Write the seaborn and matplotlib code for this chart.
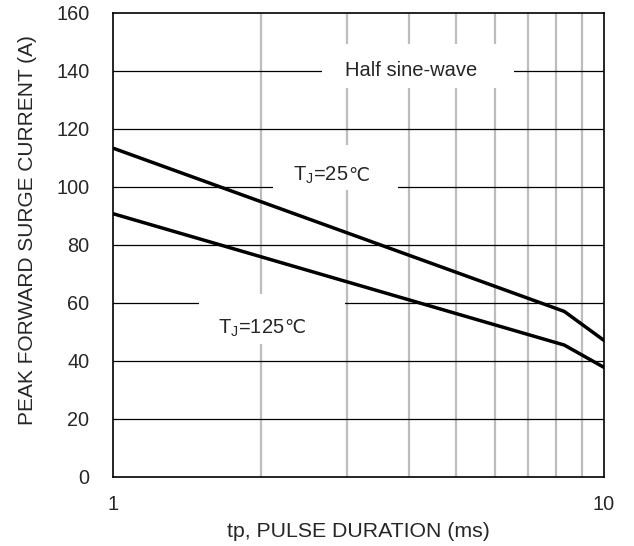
import matplotlib
matplotlib.use("Agg")
import matplotlib.pyplot as plt
import seaborn as sns
import pandas as pd
from matplotlib.ticker import FixedLocator, NullFormatter
from matplotlib.patches import Rectangle

sns.set_style("white")
plt.rcParams['font.family'] = ['Liberation Sans', 'DejaVu Sans']

tp = [1.0, 8.3, 10.0]
i_25 = [113.4, 57.1, 47.1]
i_125 = [90.8, 45.5, 37.8]
series = ["T_J=25", "T_J=125"]
x_ticks = [1, 10]
x_ticklabels = ["1", "10"]
y_ticks = list(range(0, 161, 20))

df = pd.DataFrame({
    "tp": tp + tp,
    "I": i_25 + i_125,
    "s": [series[0]] * 3 + [series[1]] * 3,
})

fig = plt.figure(figsize=(6.34, 5.46), dpi=100)
ax = fig.add_axes([113/634, 1-477/546, (604-113)/634, (477-13)/546])

ax.set_xscale("log")
ax.set_xlim(1, 10)
ax.set_ylim(0, 160)

# gridlines
for v in range(2, 10):
    ax.axvline(v, color="#bdbdbd", lw=1.6, zorder=1)
for h in range(20, 160, 20):
    ax.axhline(h, color="black", lw=0.9, zorder=1)

# white label boxes (x in data units on log axis, y in data units)
for (x0, x1, y0, y1) in [(2.666, 6.555, 134.2, 149.3),
                         (2.118, 3.805, 99.1, 114.6),
                         (1.497, 2.969, 45.8, 63.0)]:
    ax.add_patch(Rectangle((x0, y0), x1 - x0, y1 - y0, facecolor="white",
                           edgecolor="none", zorder=2))

sns.lineplot(data=df, x="tp", y="I", units="s", estimator=None,
             color="black", lw=2.5, ax=ax, legend=False, zorder=5)

ax.xaxis.set_major_locator(FixedLocator(x_ticks))
ax.set_xticklabels(x_ticklabels)
ax.xaxis.set_minor_formatter(NullFormatter())
ax.set_yticks(y_ticks)
ax.tick_params(axis="both", which="both", length=0, labelsize=14.3)
ax.tick_params(axis="y", pad=17)
ax.tick_params(axis="x", pad=13)

for sp in ax.spines.values():
    sp.set_color("black")
    sp.set_linewidth(1.2)
    sp.set_zorder(6)

ax.set_xlabel("tp, PULSE DURATION (ms)", fontsize=15.3, labelpad=6)
ax.set_ylabel("PEAK FORWARD SURGE CURRENT (A)", fontsize=15.0, labelpad=14)
ax.yaxis.label.set_y(0.532)

ax.text(4.05, 140, "Half sine-wave", fontsize=14.5, ha="center", va="center", zorder=3)

renderer = fig.canvas.get_renderer()
for (xs, yb, main) in [(2.33, 102.0, "T$_\\mathregular{J}$=25"),
                       (1.64, 49.5, "T$_\\mathregular{J}$=125")]:
    t = ax.text(xs, yb, main, fontsize=14.5, ha="left", va="baseline", zorder=3)
    bb = t.get_window_extent(renderer)
    px, py = ax.transData.transform((xs, yb))
    ax.text(bb.x1 - 0.5, py, "℃", fontsize=13.5, ha="left", va="baseline",
            family=["DejaVu Sans"], transform=None, zorder=3)

fig.savefig("out.png", dpi=100)
